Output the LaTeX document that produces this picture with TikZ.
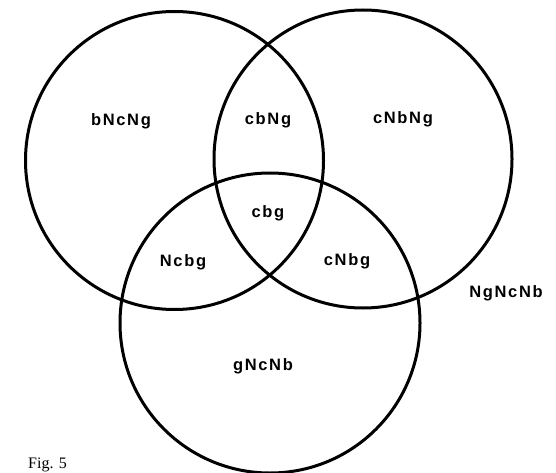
\documentclass[tikz,border=0pt]{standalone}
\usepackage{fontspec}
\setmainfont{Liberation Serif}
\newfontfamily\lblfont[LetterSpace=10]{Liberation Sans Bold}
\begin{document}
\begin{tikzpicture}[x=1pt,y=-1pt,
  ring/.style={draw, circle, line width=3pt, minimum size=298pt, inner sep=0pt},
  lbl/.style={font=\lblfont\fontsize{16.5}{16.5}\selectfont, inner sep=0pt},
  figcap/.style={font=\fontsize{16}{16}\selectfont, inner sep=0pt, anchor=base west}]
\useasboundingbox (0,0) rectangle (556,473);
\clip (0,0) rectangle (556,473);
\node[ring] (L) at (174.5,160.5) {};
\node[ring] (R) at (363,159) {};
\node[ring, minimum size=300pt] (B) at (270,323) {};
\node[lbl] (l1) at (121,121) {bNcNg};
\node[lbl] (l2) at (268,120) {cbNg};
\node[lbl] (l3) at (403,119) {cNbNg};
\node[lbl] (l4) at (268,213) {cbg};
\node[lbl] (l5) at (183,262) {Ncbg};
\node[lbl] (l6) at (347,261) {cNbg};
\node[lbl] (l7) at (506,293) {NgNcNb};
\node[lbl] (l8) at (263,366) {gNcNb};
\node[figcap] (fig) at (28,468) {Fig. 5};
\end{tikzpicture}
\end{document}
